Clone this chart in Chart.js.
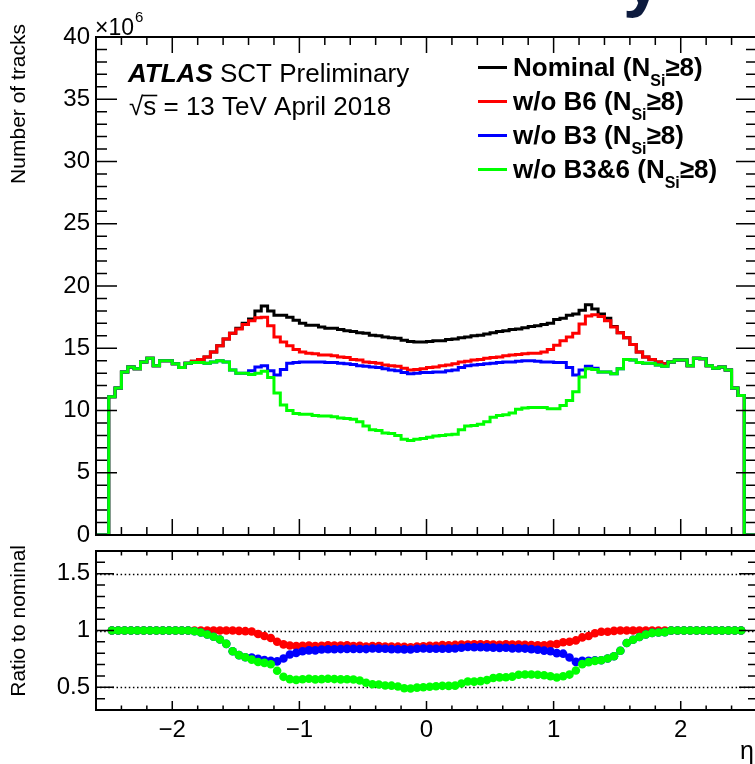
<!DOCTYPE html>
<html><head><meta charset="utf-8">
<script src="https://cdn.jsdelivr.net/npm/chart.js@4.4.0/dist/chart.umd.min.js"></script>
<style>
html,body{margin:0;padding:0;background:#fff;overflow:hidden;}
#wrap{position:relative;width:755px;height:764px;overflow:hidden;background:#fff;}
#c1{position:absolute;left:0;top:0;}
#c2{position:absolute;left:0;top:530px;}
</style></head><body>
<div id="wrap"><canvas id="c1" width="762" height="548"></canvas><canvas id="c2" width="762" height="234"></canvas></div>
<script>
// ---------------- data ----------------
const seriesNames = ['Nominal', 'w/o B6', 'w/o B3', 'w/o B3&6'];
const seriesColors = ['#000000', '#ff0000', '#0000ff', '#00ff00'];
const binLow = -2.5, binWidth = 0.05;     // 100 bins in eta
const xMin = -2.6, xMax = 2.6;

const nominal = [
 11.1,11.8,13.1,13.5,13.35,13.9,14.2,13.6,14.0,14.0,
 13.75,13.45,13.8,13.95,14.1,14.3,14.7,15.2,15.75,16.2,
 16.6,17.0,17.35,18.0,18.4,18.0,17.65,17.65,17.5,17.25,
 17.0,16.85,16.85,16.7,16.6,16.6,16.5,16.4,16.35,16.25,
 16.2,16.05,16.0,15.9,15.85,15.8,15.65,15.55,15.5,15.5,
 15.55,15.6,15.6,15.7,15.75,15.85,15.9,16.0,16.05,16.15,
 16.25,16.35,16.4,16.5,16.55,16.65,16.75,16.8,16.9,17.0,
 17.3,17.4,17.65,17.75,18.05,18.5,18.15,17.75,17.4,16.75,
 16.25,15.85,15.3,14.7,14.3,14.1,13.9,13.75,13.9,14.05,
 14.05,13.6,14.2,14.15,13.6,13.4,13.5,13.25,11.8,11.2];

const woB6 = [
 11.1,11.8,13.1,13.5,13.35,13.9,14.2,13.6,14.0,14.0,
 13.75,13.45,13.8,13.95,14.1,14.3,14.7,15.2,15.75,16.2,
 16.55,16.9,17.2,17.45,17.5,16.8,15.9,15.5,15.2,14.9,
 14.7,14.6,14.55,14.45,14.45,14.4,14.3,14.25,14.1,14.05,
 13.9,13.85,13.8,13.65,13.6,13.55,13.4,13.25,13.3,13.35,
 13.45,13.5,13.6,13.65,13.75,13.9,13.95,14.05,14.1,14.2,
 14.25,14.3,14.4,14.45,14.5,14.55,14.6,14.6,14.7,14.9,
 15.25,15.6,15.9,16.2,16.95,17.6,17.7,17.55,17.2,16.7,
 16.25,15.85,15.3,14.7,14.3,14.1,13.9,13.75,13.9,14.05,
 14.05,13.6,14.2,14.15,13.6,13.4,13.5,13.25,11.8,11.2];

const woB3 = [
 11.1,11.8,13.1,13.5,13.35,13.9,14.2,13.6,14.0,14.0,
 13.75,13.45,13.8,13.85,13.85,13.8,13.9,14.0,13.9,13.25,
 13.0,13.0,13.2,13.5,13.6,13.2,12.85,13.3,13.8,13.85,
 13.9,13.9,13.9,13.9,13.85,13.85,13.8,13.75,13.7,13.6,
 13.55,13.5,13.45,13.35,13.25,13.2,13.05,12.95,13.0,13.05,
 13.05,13.1,13.1,13.2,13.25,13.45,13.6,13.65,13.7,13.75,
 13.8,13.85,13.9,13.9,13.95,14.0,14.0,13.95,13.9,13.9,
 13.85,13.85,13.45,12.85,13.25,13.55,13.4,13.1,13.1,12.95,
 13.35,14.1,14.05,13.85,13.8,13.8,13.65,13.55,13.9,14.05,
 14.05,13.6,14.2,14.15,13.6,13.4,13.5,13.25,11.8,11.2];

const woB36 = [
 11.1,11.8,13.1,13.5,13.35,13.9,14.2,13.6,14.0,14.0,
 13.75,13.45,13.8,13.85,13.85,13.8,13.9,14.0,13.9,13.25,
 13.0,13.0,12.9,13.0,13.15,12.65,11.4,10.45,10.0,9.75,
 9.7,9.7,9.6,9.55,9.55,9.5,9.4,9.35,9.3,9.1,
 8.75,8.45,8.4,8.2,8.15,8.0,7.7,7.6,7.7,7.75,
 7.85,7.95,8.0,8.05,8.1,8.45,8.75,8.8,8.9,9.1,
 9.45,9.6,9.65,9.8,10.1,10.2,10.25,10.25,10.25,10.15,
 10.15,10.4,10.8,11.5,12.7,13.35,13.3,13.1,13.1,12.95,
 13.35,14.1,14.05,13.85,13.8,13.8,13.65,13.55,13.9,14.05,
 14.05,13.6,14.2,14.15,13.6,13.4,13.5,13.25,11.8,11.2];

const xTickValues = [-2, -1, 0, 1, 2];
const xTickLabels = ['\u22122', '\u22121', '0', '1', '2'];
const ratioTickValues = [0.5, 1, 1.5];
const ratioTickLabels = ['0.5', '1', '1.5'];
const ratioGridValues = [0.5, 1, 1.5];

// ---------------- helpers ----------------
const FONT = '"Liberation Sans", Arial, Helvetica, sans-serif';
const allSeries = [nominal, woB6, woB3, woB36];

function histPoints(vals) {
  const pts = [{x: xMin, y: 0}];
  vals.forEach((v, i) => pts.push({x: binLow + i * binWidth, y: v}));
  pts.push({x: binLow + vals.length * binWidth, y: 0});
  pts.push({x: xMax, y: 0});
  return pts;
}
function ratioPoints(vals) {
  return vals.map((v, i) => ({x: binLow + (i + 0.5) * binWidth, y: v / nominal[i]}));
}
function multiples(min, max, step) {
  const out = [];
  for (let k = Math.ceil(min / step - 1e-9); k * step <= max + 1e-9; k++) out.push(+(k * step).toFixed(6));
  return out;
}
function isMult(v, step) { const r = v / step; return Math.abs(r - Math.round(r)) < 1e-6; }
function noPad(s) { s.paddingTop = 0; s.paddingBottom = 0; s.paddingLeft = 0; s.paddingRight = 0; }

function framePlugin(o) {
  return {
    id: 'rootframe',
    beforeDatasetsDraw(chart) {
      const {ctx, chartArea: a, scales} = chart;
      if (o.grid) {
        ctx.save();
        ctx.strokeStyle = '#000'; ctx.lineWidth = 1.3; ctx.setLineDash([1.5, 2.6]);
        o.grid.forEach(v => {
          const y = Math.round(scales.y.getPixelForValue(v)) + 0.5;
          ctx.beginPath(); ctx.moveTo(a.left, y); ctx.lineTo(a.right, y); ctx.stroke();
        });
        ctx.restore();
      }
    },
    afterDraw(chart) {
      const {ctx, chartArea: a, scales} = chart;
      ctx.save();
      ctx.strokeStyle = '#000'; ctx.lineWidth = 1.5; ctx.setLineDash([]);
      multiples(scales.x.min, scales.x.max, o.xMinor).forEach(v => {
        const x = scales.x.getPixelForValue(v);
        const L = isMult(v, o.xMajor) ? o.xMajLen : o.xMinLen;
        ctx.beginPath();
        ctx.moveTo(x, a.bottom); ctx.lineTo(x, a.bottom - L);
        ctx.moveTo(x, a.top); ctx.lineTo(x, a.top + L);
        ctx.stroke();
      });
      multiples(scales.y.min, scales.y.max, o.yMinor).forEach(v => {
        const y = scales.y.getPixelForValue(v);
        const L = isMult(v, o.yMajor) ? o.yMajLen : o.yMinLen;
        ctx.beginPath();
        ctx.moveTo(a.left, y); ctx.lineTo(a.left + L, y);
        ctx.moveTo(a.right, y); ctx.lineTo(a.right - L, y);
        ctx.stroke();
      });
      ctx.lineWidth = 2;
      ctx.strokeRect(a.left, a.top, a.right - a.left, a.bottom - a.top);
      ctx.restore();
      if (o.texts) o.texts(ctx, a);
    }
  };
}

function drawRotTitle(ctx, text, x, yEnd, size) {
  ctx.save();
  ctx.translate(x, yEnd);
  ctx.rotate(-Math.PI / 2);
  ctx.font = size + 'px ' + FONT;
  ctx.fillStyle = '#000';
  ctx.textAlign = 'right';
  ctx.textBaseline = 'alphabetic';
  ctx.fillText(text, 0, 0);
  ctx.restore();
}

function topTexts(ctx, a) {
  ctx.save();
  ctx.textBaseline = 'alphabetic';
  ctx.textAlign = 'left';
  // partial title glyph at top
  ctx.fillStyle = '#0d1b3e';
  ctx.font = 'bold 70px ' + FONT;
  ctx.fillText('y', 623, 3);
  ctx.fillStyle = '#000';
  // x10^6
  ctx.font = '23px ' + FONT;
  ctx.fillText('\u00D710', 95, 35);
  const w10 = ctx.measureText('\u00D710').width;
  ctx.font = '15px ' + FONT;
  ctx.fillText('6', 95 + w10 + 1, 22);
  // ATLAS label
  ctx.font = 'italic bold 26px ' + FONT;
  ctx.fillText('ATLAS', 128, 82);
  const wA = ctx.measureText('ATLAS').width;
  ctx.font = '26px ' + FONT;
  ctx.fillText(' SCT Preliminary', 128 + wA, 82);
  // sqrt(s)
  const bx = 129, by = 115;
  ctx.font = '26px ' + FONT;
  ctx.fillText('\u221A', bx, by);
  const wr = ctx.measureText('\u221A').width;
  ctx.fillText('s', bx + wr, by);
  const ws = ctx.measureText('s').width;
  ctx.lineWidth = 1.6; ctx.strokeStyle = '#000';
  ctx.beginPath(); ctx.moveTo(bx + wr - 1, by - 19.5); ctx.lineTo(bx + wr + ws + 1, by - 19.5); ctx.stroke();
  ctx.fillText(' = 13 TeV April 2018', bx + wr + ws, by);
  // legend
  const baselines = [76, 110, 144, 178];
  seriesNames.forEach((name, i) => {
    const yb = baselines[i];
    ctx.strokeStyle = seriesColors[i]; ctx.lineWidth = 3;
    ctx.beginPath(); ctx.moveTo(478, yb - 8.5); ctx.lineTo(507, yb - 8.5); ctx.stroke();
    ctx.fillStyle = '#000';
    ctx.font = 'bold 26px ' + FONT;
    const t1 = name + ' (N';
    ctx.fillText(t1, 513, yb);
    const w1 = ctx.measureText(t1).width;
    ctx.font = 'bold 16px ' + FONT;
    ctx.fillText('Si', 513 + w1, yb + 10);
    const w2 = ctx.measureText('Si').width;
    ctx.font = 'bold 26px ' + FONT;
    ctx.fillText('\u22658)', 513 + w1 + w2, yb);
  });
  ctx.restore();
  drawRotTitle(ctx, 'Number of tracks', 25, 24, 21);
}

function bottomTexts(ctx, a) {
  drawRotTitle(ctx, 'Ratio to nominal', 25, 15, 21);
  ctx.save();
  ctx.fillStyle = '#000';
  ctx.font = '25px ' + FONT;
  ctx.textAlign = 'right';
  ctx.textBaseline = 'alphabetic';
  ctx.fillText('\u03B7', 754, 229);
  ctx.restore();
}

// ---------------- top panel ----------------
const drawOrder = [3, 2, 1, 0]; // green drawn on top
new Chart(document.getElementById('c1'), {
  type: 'line',
  data: {
    datasets: allSeries.map((vals, i) => ({
      label: seriesNames[i],
      data: histPoints(vals),
      borderColor: seriesColors[i],
      backgroundColor: seriesColors[i],
      borderWidth: 3,
      stepped: 'before',
      pointRadius: 0,
      fill: false,
      tension: 0,
      borderJoinStyle: 'miter',
      order: drawOrder[i]
    }))
  },
  options: {
    responsive: false, animation: false, devicePixelRatio: 1,
    layout: {padding: {left: 0, right: 5, top: 37, bottom: 13}},
    plugins: {legend: {display: false}, tooltip: {enabled: false}},
    scales: {
      x: {type: 'linear', min: xMin, max: xMax, display: false},
      y: {
        min: 0, max: 40,
        grid: {display: false, drawTicks: false},
        border: {display: false},
        ticks: {stepSize: 5, autoSkip: false, color: '#000', padding: 6, font: {family: FONT, size: 24}},
        afterFit(s) { s.width = 96; noPad(s); }
      }
    }
  },
  plugins: [framePlugin({xMinor: 0.2, xMajor: 1, xMajLen: 16, xMinLen: 8,
                         yMinor: 1, yMajor: 5, yMajLen: 21, yMinLen: 11, texts: topTexts})]
});

// ---------------- ratio panel ----------------
const ratioSeries = [woB6, woB3, woB36];
new Chart(document.getElementById('c2'), {
  type: 'scatter',
  data: {
    datasets: ratioSeries.map((vals, k) => ({
      label: seriesNames[k + 1],
      data: ratioPoints(vals),
      backgroundColor: seriesColors[k + 1],
      borderColor: seriesColors[k + 1],
      borderWidth: 0,
      pointRadius: 4.3,
      pointHoverRadius: 4.3,
      showLine: false,
      order: 3 - k
    }))
  },
  options: {
    responsive: false, animation: false, devicePixelRatio: 1,
    layout: {padding: {left: 0, right: 5, top: 21, bottom: 0}},
    plugins: {legend: {display: false}, tooltip: {enabled: false}},
    scales: {
      x: {
        type: 'linear', min: xMin, max: xMax,
        grid: {display: false, drawTicks: false},
        border: {display: false},
        afterBuildTicks(s) { s.ticks = xTickValues.map(v => ({value: v})); },
        ticks: {autoSkip: false, maxRotation: 0, color: '#000', padding: 6, font: {family: FONT, size: 24},
                callback: (v) => xTickLabels[xTickValues.indexOf(v)]},
        afterFit(s) { s.height = 54; noPad(s); }
      },
      y: {
        min: 0.3, max: 1.7,
        grid: {display: false, drawTicks: false},
        border: {display: false},
        afterBuildTicks(s) { s.ticks = ratioTickValues.map(v => ({value: v})); },
        ticks: {autoSkip: false, color: '#000', padding: 6, font: {family: FONT, size: 24},
                callback: (v) => ratioTickLabels[ratioTickValues.indexOf(v)]},
        afterFit(s) { s.width = 96; noPad(s); }
      }
    }
  },
  plugins: [framePlugin({xMinor: 0.2, xMajor: 1, xMajLen: 9, xMinLen: 4.5,
                         yMinor: 0.1, yMajor: 0.5, yMajLen: 18, yMinLen: 9,
                         grid: ratioGridValues, texts: bottomTexts})]
});
</script>
</body></html>
